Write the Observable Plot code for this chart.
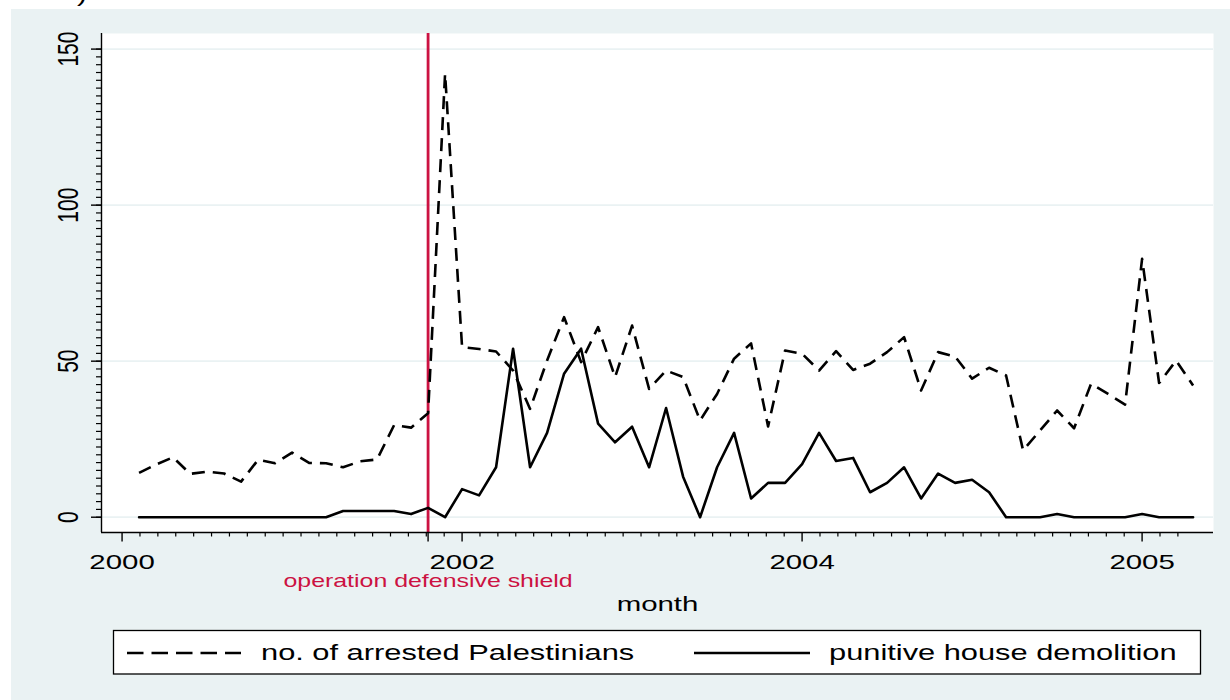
<!DOCTYPE html>
<html>
<head>
<meta charset="utf-8">
<script src="https://cdn.jsdelivr.net/npm/d3@7"></script>
<script src="https://cdn.jsdelivr.net/npm/@observablehq/plot@0.6"></script>
<style>
  html, body { margin: 0; padding: 0; background: #ffffff; }
  #wrap { position: relative; width: 1230px; height: 700px; overflow: hidden; background: #ffffff;
          font-family: "Liberation Sans", Arial, sans-serif; }
  #bg { position: absolute; left: 11px; top: 9px; right: 0; bottom: 0; background: #eaf2f3; }
  #chart { position: absolute; left: 0; top: 0; }
  #legend { position: absolute; left: 0; top: 620px; }
  #corner { position: absolute; left: 0; top: 0; }
</style>
</head>
<body>
<div id="wrap">
  <div id="bg"></div>
  <svg id="corner" width="120" height="12"><text x="77" y="1.6" font-size="21" font-family="Liberation Sans, Arial, sans-serif">)</text></svg>
  <div id="chart"></div>
  <svg id="legend" width="1230" height="80" font-family="Liberation Sans, Arial, sans-serif"></svg>
</div>
<script>
// ---- data (month index, 0 = first major tick) ----
const months = d3.range(1, 64);
const arrests = [14.2,16.9,19.2,13.9,14.6,14.0,11.4,18.4,17.3,20.7,
                 17.4,17.3,16.0,17.9,18.5,29.5,28.7,33.3,142.1,54.5,
                 53.9,53.1,47.0,34.7,50.2,64.1,49.7,60.9,44.9,61.4,
                 41.1,47.0,44.9,31.0,39.5,50.8,55.7,29.1,53.4,52.4,
                 47.0,53.2,47.2,49.2,52.9,57.7,40.6,52.9,51.5,44.4,
                 47.9,45.4,21.4,27.8,34.2,28.5,42.8,39.5,36.1,82.8,
                 43.0,50.2,42.2];
const demolitions = [0,0,0,0,0,0,0,0,0,0,
                     0,0,2,2,2,2,1,3,0,9,
                     7,16,54,16,27,46,54,30,24,29,
                     16,35,13,0,16,27,6,11,11,17,
                     27,18,19,8,11,16,6,14,11,12,
                     8,0,0,0,1,0,0,0,0,1,
                     0,0,0];
const xTickPos = [0, 20, 40, 60];
const xTickLabels = ["2000", "2002", "2004", "2005"];
const eventMonth = 18;
const eventLabel = "operation defensive shield";
const yTicks = [0, 50, 100, 150];
const seriesNames = ["no. of arrested Palestinians", "punitive house demolition"];
const xLabel = "month";

// ---- derived ----
const data = months.map((m, i) => ({month: m, arrests: arrests[i], demolitions: demolitions[i]}));
const xMinor = [];
for (const k of [0, 20, 40]) for (let j = 1; j < 19; j++) xMinor.push(k + j * 20 / 19);
xMinor.push(60 + 20 / 19, 60 + 40 / 19);
const yMinor = d3.range(0, 150.01, 2.5);
const xDomain = [-1.21, 64.2];
const yDomain = [-4.9, 155];
const BG = "#eaf2f3";
const RED = "#cc1242";
const FONT = "Liberation Sans, Arial, sans-serif";

const plot = Plot.plot({
  width: 1230,
  height: 620,
  marginLeft: 101,
  marginRight: 17,
  marginTop: 33,
  marginBottom: 88,
  style: {background: "transparent", fontFamily: FONT, color: "black"},
  x: {domain: xDomain, axis: null},
  y: {domain: yDomain, axis: null},
  marks: [
    Plot.frame({fill: "white", stroke: null}),
    Plot.gridY(yTicks, {stroke: BG, strokeOpacity: 1, strokeWidth: 1.8}),
    Plot.ruleX([eventMonth], {stroke: RED, strokeWidth: 2.8}),
    Plot.line(data, {x: "month", y: "demolitions", stroke: "black", strokeWidth: 2.6}),
    Plot.line(data, {x: "month", y: "arrests", stroke: "black", strokeWidth: 2.6,
                     strokeDasharray: "13,8", strokeLinecap: "butt"}),
    Plot.ruleX([xDomain[0]], {stroke: "black", strokeWidth: 1.4}),
    Plot.ruleY([yDomain[0]], {stroke: "black", strokeWidth: 1.4}),
    Plot.axisY(yTicks, {anchor: "left", tickSize: 10, text: null, label: null, strokeWidth: 1.4}),
    Plot.axisY(yMinor, {anchor: "left", tickSize: 5, text: null, label: null, strokeWidth: 1.2}),
    Plot.axisX([...xTickPos, eventMonth], {anchor: "bottom", tickSize: 9.5, text: null, label: null, strokeWidth: 1.4}),
    Plot.axisX(xMinor, {anchor: "bottom", tickSize: 4.5, text: null, label: null, strokeWidth: 1.2}),
    Plot.text(yTicks, {y: d => d, text: d => String(d), frameAnchor: "left", dx: -33, rotate: -90,
                       textAnchor: "middle", lineAnchor: "middle", fontSize: 21, fill: "black"}),
    Plot.text(xTickPos, {x: d => d, text: (d, i) => xTickLabels[i], frameAnchor: "bottom", dy: 36,
                         lineAnchor: "bottom", fontSize: 21, fill: "black"}),
    Plot.text([eventMonth], {x: d => d, text: () => eventLabel, frameAnchor: "bottom", dy: 54,
                             lineAnchor: "bottom", fontSize: 17.8, fill: RED}),
    Plot.text([xLabel], {frameAnchor: "bottom", dy: 78, lineAnchor: "bottom", fontSize: 21, fill: "black"})
  ]
});
document.getElementById("chart").appendChild(plot);

// ---- legend ----
const ns = "http://www.w3.org/2000/svg";
const leg = document.getElementById("legend");
function el(tag, attrs, text) {
  const e = document.createElementNS(ns, tag);
  for (const k in attrs) e.setAttribute(k, attrs[k]);
  if (text) e.textContent = text;
  leg.appendChild(e);
  return e;
}
el("rect", {x: 113.5, y: 10.5, width: 1087, height: 43.5, fill: "white", stroke: "black", "stroke-width": 1.3});
el("line", {x1: 127, x2: 241, y1: 33, y2: 33, stroke: "black", "stroke-width": 2.6, "stroke-dasharray": "16.5,8"});
el("text", {x: 261, y: 40, "font-size": 22, fill: "black"}, seriesNames[0]);
el("line", {x1: 694, x2: 810, y1: 33, y2: 33, stroke: "black", "stroke-width": 2.6});
el("text", {x: 829, y: 40, "font-size": 22, fill: "black"}, seriesNames[1]);

// ---- horizontal text stretch to mimic the reference's wide lettering ----
function stretch(svg, f) {
  svg.querySelectorAll("text").forEach(t => {
    const tr = t.getAttribute("transform") || "";
    if (/rotate/.test(tr)) { t.setAttribute("transform", tr + ` scale(1,${f})`); return; }
    const L = t.getComputedTextLength();
    if (L > 0) { t.setAttribute("textLength", L * f); t.setAttribute("lengthAdjust", "spacingAndGlyphs"); }
  });
}
stretch(plot, 1.4);
stretch(leg, 1.4);
stretch(document.getElementById("corner"), 1.4);
</script>
</body>
</html>
